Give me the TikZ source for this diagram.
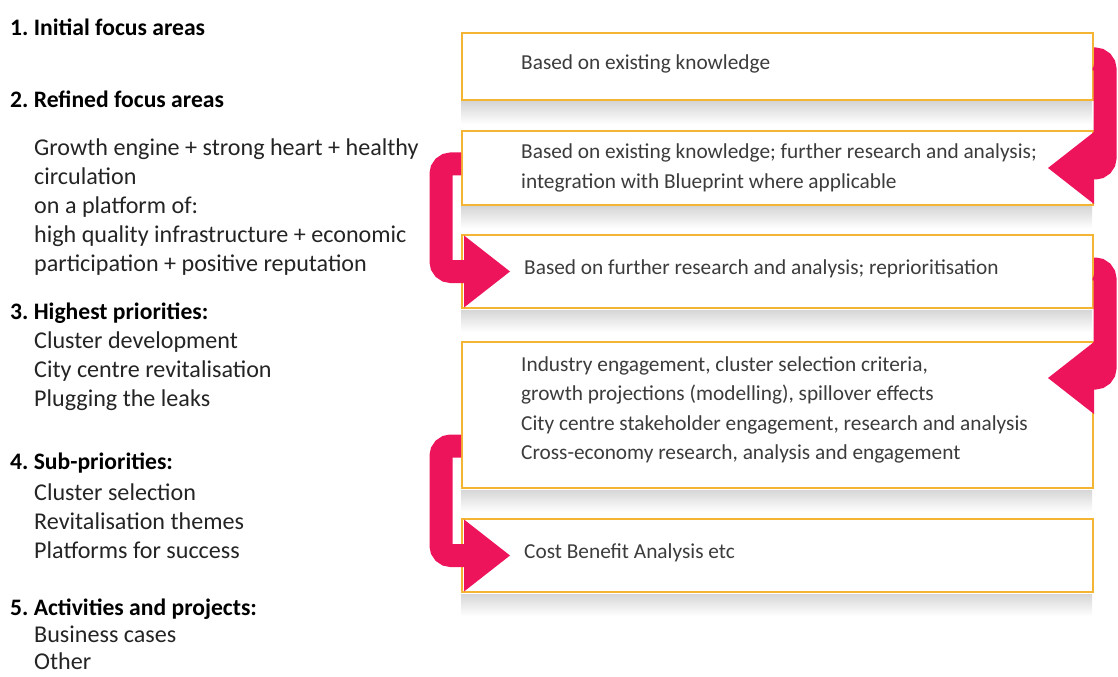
\documentclass[tikz,border=0pt]{standalone}
\usepackage{fontspec}
\setmainfont{Carlito}
\usetikzlibrary{positioning,arrows.meta}
\definecolor{boxgold}{RGB}{244,181,52}
\definecolor{turnpink}{RGB}{237,20,92}
\definecolor{inktext}{RGB}{36,36,36}
\definecolor{boxtext}{RGB}{60,60,60}
\tikzset{
  lefthead/.style={anchor=west, inner sep=0pt, font=\bfseries\fontsize{23.7}{29}\selectfont, text=black},
  leftbody/.style={anchor=west, inner sep=0pt, align=left, font=\fontsize{24.2}{29}\selectfont, text=inktext},
  stagebox/.style={draw=boxgold, line width=2bp, fill=white, minimum width=631bp, inner sep=0pt},
  stagetext/.style={anchor=west, inner sep=0pt, align=left, font=\fontsize{21.4}{29.3}\selectfont, text=boxtext},
  stageshadow/.style={top color=black!16, bottom color=white, draw=none},
  uturn/.style={draw=turnpink, line width=23bp, rounded corners=10bp,
    -{Triangle[width=72bp,length=46bp,line width=0pt]}},
}
\frenchspacing

\begin{document}
\begin{tikzpicture}[x=1bp,y=-1bp]
\useasboundingbox (0,0) rectangle (1118,677);
% left column
\node[lefthead] (h1) at (10,27) {1. Initial focus areas};
\node[lefthead] (h2) at (10,99) {2. Refined focus areas};
\node[leftbody] (b2) at (34,207) {Growth engine + strong heart + healthy\\ circulation\\ on a platform of:\\ high quality infrastructure + economic\\ participation + positive reputation};
\node[lefthead] (h3) at (10,313) {3. Highest priorities:};
\node[leftbody] (b3) at (34,371) {Cluster development\\ City centre revitalisation\\ Plugging the leaks};
\node[lefthead] (h4) at (10,463) {4. Sub-priorities:};
\node[leftbody] (b4) at (34,521) {Cluster selection\\ Revitalisation themes\\ Platforms for success};
\node[lefthead] (h5) at (10,609) {5. Activities and projects:};
\node[leftbody, font=\fontsize{24.2}{27}\selectfont] (b5) at (34,648) {Business cases\\ Other};

% stage boxes
\node[stagebox, minimum height=67bp] (s1) at (777.5,66.5) {};
\node[stagebox, minimum height=73bp] (s2) at (777.5,168) {};
\node[stagebox, minimum height=73bp] (s3) at (777.5,271.5) {};
\node[stagebox, minimum height=146bp] (s4) at (777.5,415) {};
\node[stagebox, minimum height=73bp] (s5) at (777.5,555.5) {};
\foreach \s in {s1,s2,s3,s4,s5}
  \fill[stageshadow] ([yshift=-1bp]\s.south west) rectangle ++(631,22);

\node[stagetext, right=60bp of s1.west, yshift=3bp] (t1) {Based on existing knowledge};
\node[stagetext, right=60bp of s2.west] (t2) {Based on existing knowledge; further research and analysis;\\ integration with Blueprint where applicable};
\node[stagetext, right=63bp of s3.west, yshift=3bp] (t3) {Based on further research and analysis; reprioritisation};
\node[stagetext, right=60bp of s4.west, yshift=5bp] (t4) {Industry engagement, cluster selection criteria,\\ growth projections (modelling), spillover effects\\ City centre stakeholder engagement, research and analysis\\ Cross-economy research, analysis and engagement};
\node[stagetext, right=63bp of s5.west, yshift=3bp] (t5) {Cost Benefit Analysis etc};

% u-turn arrows
\draw[uturn] ([yshift=7.5bp]s1.east) -- ++(11,0) |- ([xshift=-46bp]s2.east);
\draw[uturn] ([yshift=4bp]s2.west) -- ++(-20,0) |- ([xshift=49bp]s3.west);
\draw[uturn] ([yshift=2.5bp]s3.east) -- ++(11,0) |- ([xshift=-46bp,yshift=37bp]s4.east);
\draw[uturn] ([yshift=-31bp]s4.west) -- ++(-20,0) |- ([xshift=49bp]s5.west);
\end{tikzpicture}
\end{document}
